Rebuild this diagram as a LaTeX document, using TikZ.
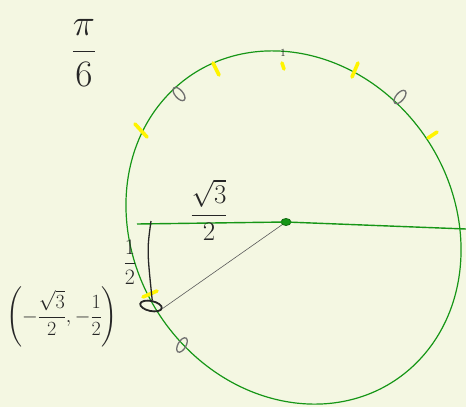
\documentclass[tikz,border=0pt]{standalone}
\usepackage{amsmath,amssymb}
\usepackage{graphicx}
\usepackage{xcolor}
\usepackage{tikz}
\usetikzlibrary{
    shapes.geometric,
    arrows.meta,
    positioning,
    calc
}
\definecolor{paper}{RGB}{244,247,226}
\definecolor{penGreen}{RGB}{22,150,22}
\definecolor{hiYellow}{RGB}{255,244,0}
\definecolor{penGray}{RGB}{112,112,112}
\definecolor{ink}{RGB}{38,38,38}

\begin{document}
\begin{tikzpicture}[
    x=1pt, y=-1pt,
    circ/.style={draw=penGreen, line width=1.2pt},
    axis/.style={draw=penGreen, line width=1.4pt},
    tickmark/.style={draw=hiYellow, line width=3.6pt, line cap=round},
    oval/.style={
        ellipse,
        draw=penGray,
        line width=1.3pt,
        minimum width=8pt,
        minimum height=16pt,
        inner sep=0pt
    },
    hand/.style={text=ink, inner sep=0pt, font=\huge},
    thin/.style={draw=penGray!80!black, line width=0.6pt},
    leg/.style={draw=ink, line width=1.3pt}
]

% Paper
\fill[paper] (0, 0) rectangle (466, 407);
\useasboundingbox (0, 0) rectangle (466, 407);

% Title
\node[hand] (title) at (84, 53) {\scalebox{1.8}{$\dfrac{\pi}{6}$}};

% Unit circle (hand drawn, a little lopsided)
\draw[circ, shift={(293.5, 227.5)}, xscale=0.961, yscale=1.013, rotate=-45]
    (0, 0) ellipse [x radius=185, y radius=163];

% Marks at multiples of pi/6
\draw[tickmark] (135, 124) -- (147, 137);
\draw[tickmark] (213, 63) -- (219, 75);
\draw[tickmark] (282, 63) -- (284, 69);
\draw[tickmark] (358, 63) -- (352, 77);
\draw[tickmark] (437, 132) -- (428, 138);
\draw[tickmark] (143, 297) -- (157, 291);

% Marks at multiples of pi/4
\node[oval, rotate=40] (q2) at (179, 94) {};
\node[oval, rotate=-40] (q1) at (400, 97) {};
\node[oval, rotate=-30] (q3) at (182, 345) {};

% Top label
\node[hand, font=\fontsize{11}{13}\selectfont] (top) at (283, 53) {1};

% Centre and horizontal radius
\node[ellipse, draw=penGreen!70!black, fill=penGreen, line width=0.8pt,
      minimum width=10pt, minimum height=7pt, inner sep=0pt] (origin) at (286, 222) {};
\coordinate (left) at (137, 224);
\coordinate (right) at (466, 229);
\draw[axis] (left) -- (origin.center) -- (right);

% Point on the circle
\node[ellipse, draw=ink, line width=1.8pt, minimum width=22pt,
      minimum height=10pt, inner sep=0pt, rotate=-12] (pt) at (151, 306) {};
\coordinate (foot) at (151, 221);
\draw[leg] (foot) .. controls (147, 250) .. (pt.north);
\draw[thin] (origin) -- (pt.east);

% Labels
\node[hand] (cosl) at (209, 210) {\scalebox{1.3}{$\dfrac{\sqrt{3}}{2}$}};
\node[hand] (sinl) at (130, 262) {\scalebox{1.06}{$\dfrac{1}{2}$}};
\node[hand] (coord) at (62, 317)
    {\scalebox{0.97}{$\left(-\dfrac{\sqrt{3}}{2},-\dfrac{1}{2}\right)$}};

\end{tikzpicture}
\end{document}
